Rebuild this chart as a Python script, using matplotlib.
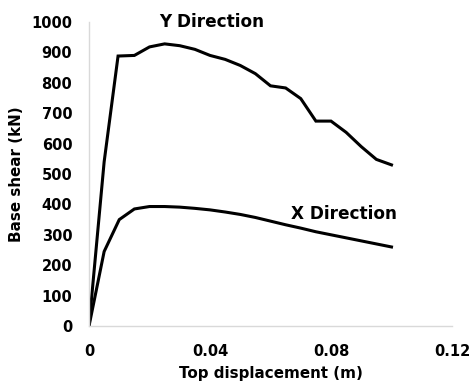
import matplotlib
matplotlib.use("Agg")
import matplotlib.pyplot as plt

# Y direction pushover curve
y_disp = [0.0, 0.005, 0.0096, 0.015, 0.020, 0.025, 0.030, 0.035, 0.040, 0.045, 0.050,
          0.055, 0.060, 0.065, 0.070, 0.075, 0.080, 0.085, 0.090, 0.095, 0.100]
y_shear = [0, 540, 888, 890, 918, 928, 922, 910, 890, 877, 857,
           830, 790, 783, 748, 674, 674, 637, 590, 548, 530]

# X direction pushover curve
x_disp = [0.0, 0.005, 0.010, 0.015, 0.020, 0.025, 0.030, 0.035, 0.040, 0.045, 0.050,
          0.055, 0.060, 0.065, 0.070, 0.075, 0.080, 0.085, 0.090, 0.095, 0.100]
x_shear = [0, 245, 350, 385, 393, 393, 391, 387, 382, 375, 367,
           357, 345, 333, 322, 310, 300, 290, 280, 270, 260]

xticks = [0, 0.04, 0.08, 0.12]
xtick_labels = ["0", "0.04", "0.08", "0.12"]
yticks = list(range(0, 1001, 100))

plt.rcParams['font.family'] = ['DejaVu Sans']
fig = plt.figure(figsize=(4.72, 3.83), dpi=100)
ax = fig.add_axes([0.1886, 0.1488, 0.769, 0.7938])

ax.plot(y_disp, y_shear, color='black', lw=2.2, solid_joinstyle='miter')
ax.plot(x_disp, x_shear, color='black', lw=2.2, solid_joinstyle='miter')

ax.set_xlim(0, 0.12)
ax.set_ylim(0, 1000)
ax.set_xticks(xticks)
ax.set_xticklabels(xtick_labels)
ax.set_yticks(yticks)
for s in ['top', 'right']:
    ax.spines[s].set_visible(False)
for s in ['left', 'bottom']:
    ax.spines[s].set_color('#d9d9d9')
    ax.spines[s].set_linewidth(1.0)
ax.tick_params(axis='both', length=0, labelsize=10.5)
ax.tick_params(axis='x', pad=13)
ax.tick_params(axis='y', pad=12)
for lab in ax.get_xticklabels() + ax.get_yticklabels():
    lab.set_fontweight('bold')

ax.set_xlabel("Top displacement (m)", fontsize=10.9, fontweight='bold', labelpad=5)
ax.set_ylabel("Base shear (kN)", fontsize=10.9, fontweight='bold', labelpad=5)

ax.text(0.0232, 1000, "Y Direction", fontsize=12.2, fontweight='bold', va='center', ha='left', clip_on=False)
ax.text(0.0669, 368, "X Direction", fontsize=12.2, fontweight='bold', va='center', ha='left')

fig.savefig("out.png", dpi=100)
